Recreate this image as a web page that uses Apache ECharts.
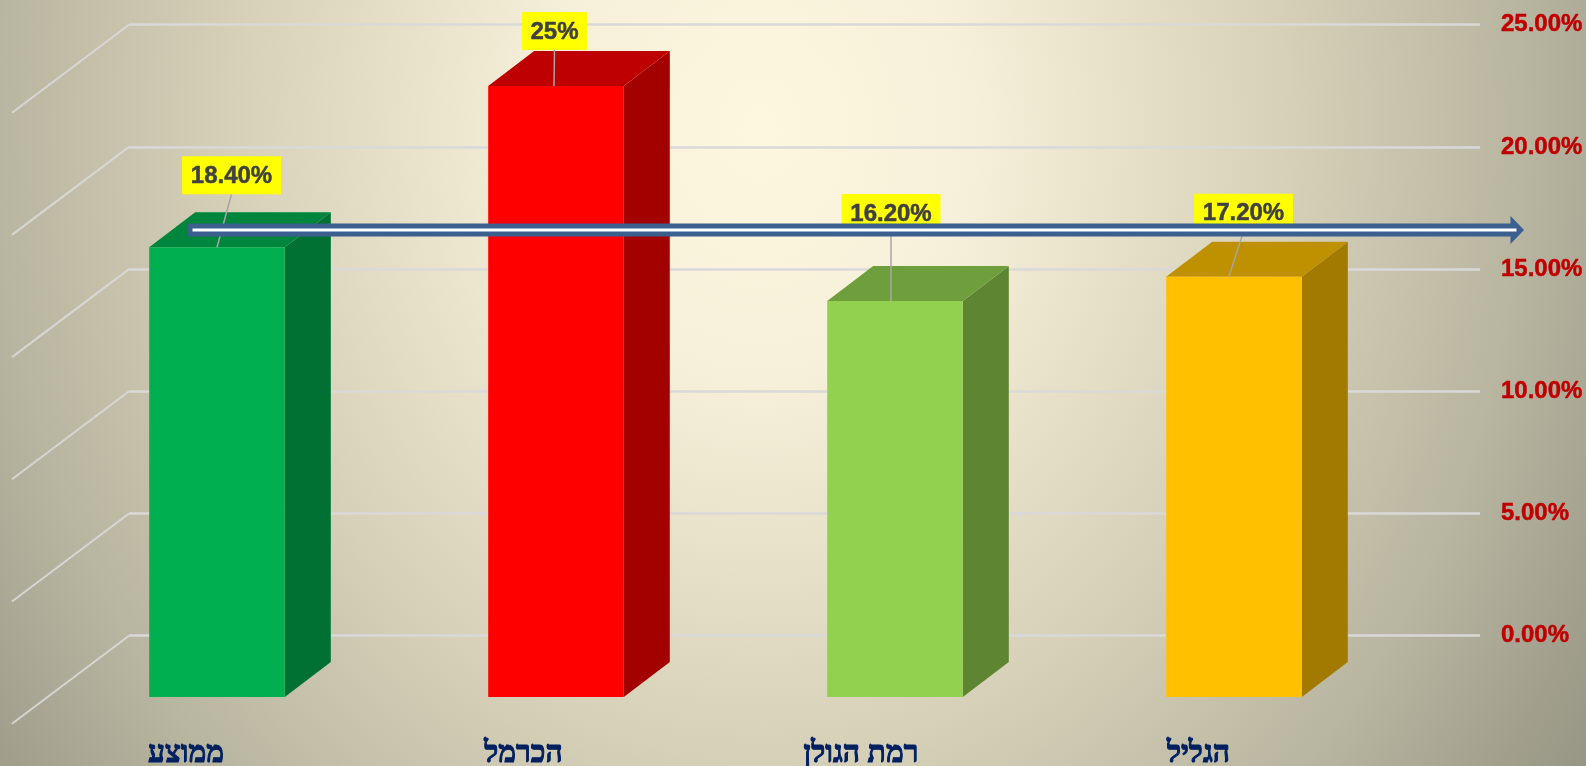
<!DOCTYPE html>
<html>
<head>
<meta charset="utf-8">
<style>
html,body{margin:0;padding:0;overflow:hidden;background:#d6d0b8}
#c{width:1586px;height:766px;background:radial-gradient(ellipse 1060px 1260px at 760px 130px,#FDF7E0 0%,#F6F0DA 20%,#D6D0B8 50%,#B8B5A0 72%,#8C8A7A 100%)}
</style>
<script src="https://cdn.jsdelivr.net/npm/echarts@6/dist/echarts.min.js"></script>
</head>
<body>
<div id="c"></div>
<script>
var categories = ['ממוצע', 'הכרמל', 'רמת הגולן', 'הגליל'];
var values = [18.4, 25, 16.2, 17.2];
var valueLabels = ['18.40%', '25%', '16.20%', '17.20%'];
var gridTicks = [0, 5, 10, 15, 20, 25];
var arrowLevel = 16.6;

var faceColors = ['#00B050', '#FF0000', '#92D050', '#FFC000'];
var topColors = ['#00853C', '#BF0000', '#6F9E3D', '#BF9000'];
var sideColors = ['#007033', '#A30000', '#5E8531', '#A37A00'];
var BAR_DX = 46, BAR_DY = 35;
var FLOOR_DX = 117, FLOOR_DY = 88;
// callout placement relative to each bar's top centre: box centre dx, box bottom dy, box width, leader foot dx
var calloutDx = [14.5, -1.5, -4, 9.5];
var calloutDy = [-53, -36, -69, -45];
var calloutW = [99, 65, 99, 99];
var leaderDx = [0, -2, -4, -5];
var CALLOUT_H = 38;

function renderWallLine(params, api) {
  var p = api.coord([0, api.value(1)]);
  return {
    type: 'line', silent: true,
    shape: { x1: p[0], y1: p[1], x2: p[0] - FLOOR_DX, y2: p[1] + FLOOR_DY },
    style: { stroke: '#D9D9D9', lineWidth: 2, opacity: 0.9 }
  };
}

function renderBar(params, api) {
  var i = api.value(0);
  var top = api.coord([i, api.value(1)]);
  var base = api.coord([i, 0]);
  var w = api.size([1, 0])[0] * 0.4;
  var l = top[0] - w / 2, r = top[0] + w / 2, t = top[1], b = base[1];
  return {
    type: 'group',
    children: [
      { type: 'polygon', shape: { points: [[r, t], [r + BAR_DX, t - BAR_DY], [r + BAR_DX, b - BAR_DY], [r, b]] }, style: { fill: sideColors[i] } },
      { type: 'polygon', shape: { points: [[l, t], [l + BAR_DX, t - BAR_DY], [r + BAR_DX, t - BAR_DY], [r, t]] }, style: { fill: topColors[i] } },
      { type: 'rect', shape: { x: l, y: t, width: w, height: b - t }, style: { fill: faceColors[i] } }
    ]
  };
}

function renderCallout(params, api) {
  var i = api.value(0);
  var top = api.coord([i, api.value(1)]);
  var cx = top[0] + calloutDx[i], by = top[1] + calloutDy[i], w = calloutW[i];
  return {
    type: 'group',
    children: [
      { type: 'line', shape: { x1: cx, y1: by, x2: top[0] + leaderDx[i], y2: top[1] }, style: { stroke: '#A6A6A6', lineWidth: 1.5 } },
      { type: 'rect', shape: { x: cx - w / 2, y: by - CALLOUT_H, width: w, height: CALLOUT_H }, style: { fill: '#FFFF00' } },
      { type: 'text', style: { x: cx, y: by - CALLOUT_H / 2 + 1, text: valueLabels[i], align: 'center', verticalAlign: 'middle', fill: '#404040', stroke: '#404040', lineWidth: 0.5, font: 'bold 24px "Liberation Sans"' } }
    ]
  };
}

function renderArrow(params, api) {
  var a = api.coord([0, api.value(1)]);
  var e = api.coord([1, api.value(1)]);
  var y = a[1], x0 = a[0] + 59, x1 = e[0] + 44;
  return {
    type: 'group',
    children: [
      { type: 'polygon', shape: { points: [[x0, y - 6.5], [x1 - 13.5, y - 6.5], [x1 - 13.5, y - 14], [x1, y], [x1 - 13.5, y + 14], [x1 - 13.5, y + 6.5], [x0, y + 6.5]] }, style: { fill: '#3B5F8F' } },
      { type: 'rect', shape: { x: x0 + 4.5, y: y - 1.4, width: x1 - x0 - 12, height: 2.8 }, style: { fill: '#FFFFFF' } }
    ]
  };
}

var chart = echarts.init(document.getElementById('c'), null, { renderer: 'canvas' });
chart.setOption({
  animation: false,
  backgroundColor: 'transparent',
  grid: [
    { left: 129, top: 24.7, width: 1351, height: 611, outerBoundsMode: 'none' },
    { left: 47.5, top: 86, width: 1356, height: 611, outerBoundsMode: 'none' },
    { left: 17.25, top: 700, width: 1350, height: 22, outerBoundsMode: 'none' }
  ],
  xAxis: [
    { gridIndex: 0, type: 'value', min: 0, max: 1, show: false },
    { gridIndex: 1, type: 'category', data: categories, show: false },
    {
      gridIndex: 2, type: 'category', data: categories, position: 'bottom',
      axisLine: { show: false }, axisTick: { show: false },
      axisLabel: { margin: 17, color: '#002060', fontFamily: 'Liberation Serif', fontWeight: 'bold', fontSize: 30, textBorderColor: '#002060', textBorderWidth: 1 }
    }
  ],
  yAxis: [
    {
      gridIndex: 0, type: 'value', min: 0, max: 25, interval: 5, position: 'right',
      axisLine: { show: false }, axisTick: { show: false },
      splitLine: { show: true, lineStyle: { color: '#D9D9D9', width: 2.5 } },
      axisLabel: {
        margin: 21, color: '#C00000', fontFamily: 'Liberation Sans', fontWeight: 'bold', fontSize: 24,
        textBorderColor: '#C00000', textBorderWidth: 0.5,
        formatter: function (v) { return v.toFixed(2) + '%'; }
      }
    },
    { gridIndex: 1, type: 'value', min: 0, max: 25, show: false },
    { gridIndex: 2, type: 'value', show: false }
  ],
  series: [
    { type: 'custom', xAxisIndex: 0, yAxisIndex: 0, z: 1, clip: false, silent: true, renderItem: renderWallLine, encode: { x: 0, y: 1 }, data: gridTicks.map(function (t) { return [0, t]; }) },
    { type: 'custom', xAxisIndex: 1, yAxisIndex: 1, z: 2, clip: false, silent: true, renderItem: renderBar, encode: { x: 0, y: 1 }, data: values.map(function (v, i) { return [i, v]; }) },
    { type: 'custom', xAxisIndex: 1, yAxisIndex: 1, z: 3, clip: false, silent: true, renderItem: renderCallout, encode: { x: 0, y: 1 }, data: values.map(function (v, i) { return [i, v]; }) },
    { type: 'custom', xAxisIndex: 0, yAxisIndex: 0, z: 4, clip: false, silent: true, renderItem: renderArrow, encode: { x: 0, y: 1 }, data: [[0, arrowLevel]] }
  ]
});
</script>
</body>
</html>
